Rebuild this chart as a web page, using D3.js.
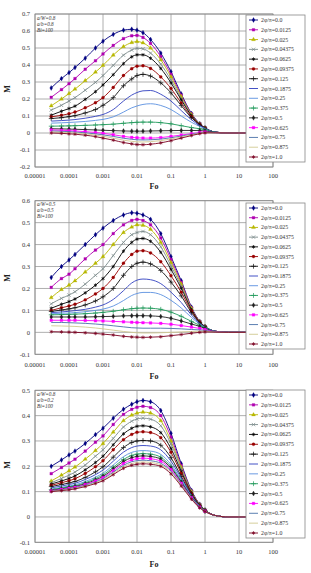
<!DOCTYPE html>
<html><head><meta charset="utf-8">
<script src="https://cdn.jsdelivr.net/npm/d3@7"></script>
<style>body{margin:0;background:#fff}svg{display:block}</style>
</head><body>
<svg id="c" width="311" height="573"></svg>
<script>
// ---- data ----
const foValues = [3e-5,6e-5,1e-4,1.5e-4,3e-4,6e-4,1e-3,2e-3,4e-3,7e-3,1e-2,1.5e-2,2.5e-2,5e-2,0.1,0.2,0.4,0.7,1,2,5,20];
const seriesLabels = ["2φ/π=0.0","2φ/π=0.0125","2φ/π=0.025","2φ/π=0.04375","2φ/π=0.0625","2φ/π=0.09375","2φ/π=0.125","2φ/π=0.1875","2φ/π=0.25","2φ/π=0.375","2φ/π=0.5","2φ/π=0.625","2φ/π=0.75","2φ/π=0.875","2φ/π=1.0"];
const xTickValues = [1e-5,1e-4,1e-3,1e-2,0.1,1,10,100];
const xTickLabels = ["0.00001","0.0001","0.001","0.01","0.1","1","10","100"];
const panel1Notes = ["a/W=0.8","a/b=0.8","Bi=100"];
const panel2Notes = ["a/W=0.5","a/b=0.5","Bi=100"];
const panel3Notes = ["a/W=0.8","a/b=0.2","Bi=100"];
const panel1M = [
[0.265,0.32,0.355,0.385,0.44,0.50,0.54,0.58,0.605,0.61,0.605,0.59,0.55,0.47,0.36,0.23,0.115,0.055,0.03,0.005,0,0],
[0.21,0.255,0.29,0.32,0.375,0.425,0.465,0.515,0.555,0.572,0.574,0.562,0.527,0.45,0.345,0.222,0.112,0.054,0.03,0.005,0,0],
[0.16,0.2,0.232,0.258,0.308,0.358,0.398,0.458,0.508,0.532,0.538,0.53,0.5,0.43,0.33,0.214,0.109,0.053,0.029,0.005,0,0],
[0.135,0.163,0.188,0.208,0.252,0.298,0.338,0.398,0.458,0.488,0.498,0.495,0.47,0.405,0.312,0.204,0.105,0.052,0.029,0.005,0,0],
[0.105,0.128,0.144,0.158,0.198,0.243,0.283,0.343,0.408,0.448,0.46,0.46,0.44,0.38,0.295,0.195,0.102,0.051,0.029,0.005,0,0],
[0.095,0.104,0.113,0.123,0.148,0.178,0.208,0.268,0.338,0.378,0.393,0.395,0.38,0.33,0.262,0.176,0.095,0.049,0.028,0.005,0,0],
[0.085,0.09,0.096,0.102,0.118,0.138,0.163,0.208,0.278,0.318,0.338,0.345,0.335,0.295,0.236,0.161,0.09,0.048,0.028,0.005,0,0],
[0.07,0.073,0.076,0.079,0.087,0.098,0.109,0.138,0.188,0.223,0.238,0.248,0.25,0.228,0.188,0.132,0.078,0.044,0.027,0.005,0,0],
[0.058,0.06,0.062,0.064,0.068,0.074,0.08,0.095,0.123,0.148,0.159,0.168,0.172,0.162,0.138,0.1,0.063,0.039,0.025,0.005,0,0],
[0.04,0.041,0.042,0.043,0.045,0.047,0.049,0.052,0.057,0.061,0.063,0.064,0.064,0.061,0.054,0.043,0.032,0.025,0.02,0.004,0,0],
[0.025,0.024,0.023,0.022,0.02,0.018,0.016,0.014,0.012,0.011,0.011,0.011,0.012,0.013,0.014,0.015,0.015,0.014,0.012,0.003,0,0],
[0.018,0.016,0.014,0.012,0.008,0.003,-0.002,-0.01,-0.02,-0.026,-0.028,-0.03,-0.03,-0.027,-0.02,-0.012,-0.004,0.003,0.006,0.002,0,0],
[0.012,0.01,0.008,0.006,0.001,-0.005,-0.011,-0.02,-0.031,-0.037,-0.04,-0.041,-0.04,-0.036,-0.028,-0.018,-0.008,0.0,0.004,0.001,0,0],
[0.006,0.004,0.002,0.0,-0.005,-0.012,-0.019,-0.03,-0.042,-0.049,-0.052,-0.053,-0.051,-0.045,-0.035,-0.023,-0.011,-0.002,0.002,0.001,0,0],
[0.0,-0.002,-0.005,-0.007,-0.013,-0.021,-0.03,-0.042,-0.056,-0.064,-0.068,-0.069,-0.066,-0.058,-0.045,-0.03,-0.015,-0.004,0.001,0.001,0,0]
];
const panel2M = [
[0.25,0.3,0.33,0.355,0.40,0.445,0.475,0.51,0.535,0.545,0.543,0.535,0.515,0.45,0.345,0.235,0.115,0.05,0.026,0.005,0,0],
[0.205,0.245,0.265,0.29,0.335,0.375,0.40,0.45,0.49,0.51,0.515,0.51,0.49,0.43,0.332,0.228,0.112,0.049,0.026,0.005,0,0],
[0.158,0.195,0.215,0.235,0.275,0.315,0.345,0.40,0.455,0.48,0.49,0.488,0.47,0.41,0.318,0.22,0.109,0.048,0.026,0.005,0,0],
[0.13,0.155,0.17,0.185,0.22,0.26,0.29,0.35,0.41,0.445,0.455,0.46,0.445,0.39,0.303,0.211,0.106,0.047,0.026,0.005,0,0],
[0.11,0.128,0.14,0.152,0.18,0.215,0.245,0.3,0.37,0.41,0.425,0.428,0.415,0.365,0.287,0.201,0.103,0.046,0.025,0.005,0,0],
[0.1,0.112,0.12,0.128,0.148,0.175,0.2,0.25,0.315,0.355,0.37,0.372,0.362,0.322,0.258,0.183,0.097,0.045,0.025,0.005,0,0],
[0.095,0.102,0.107,0.112,0.125,0.143,0.162,0.2,0.26,0.3,0.315,0.32,0.312,0.282,0.229,0.166,0.09,0.044,0.025,0.005,0,0],
[0.09,0.093,0.096,0.099,0.105,0.115,0.125,0.15,0.19,0.225,0.238,0.243,0.24,0.222,0.183,0.136,0.079,0.041,0.024,0.005,0,0],
[0.085,0.087,0.088,0.09,0.094,0.1,0.106,0.12,0.145,0.168,0.177,0.182,0.182,0.172,0.146,0.111,0.068,0.038,0.023,0.005,0,0],
[0.08,0.081,0.082,0.083,0.085,0.088,0.091,0.096,0.103,0.108,0.11,0.111,0.11,0.105,0.092,0.073,0.05,0.032,0.021,0.004,0,0],
[0.07,0.07,0.07,0.07,0.07,0.071,0.072,0.073,0.075,0.076,0.076,0.076,0.075,0.072,0.064,0.052,0.038,0.027,0.018,0.003,0,0],
[0.055,0.055,0.055,0.055,0.054,0.053,0.052,0.05,0.048,0.046,0.045,0.044,0.043,0.041,0.037,0.031,0.024,0.018,0.013,0.003,0,0],
[0.045,0.045,0.044,0.043,0.041,0.038,0.035,0.03,0.025,0.021,0.02,0.019,0.019,0.019,0.018,0.016,0.013,0.011,0.009,0.002,0,0],
[0.03,0.029,0.028,0.027,0.024,0.02,0.016,0.01,0.004,0.0,-0.002,-0.003,-0.003,-0.002,0.0,0.002,0.004,0.005,0.005,0.001,0,0],
[0.003,0.002,0.001,0.0,-0.002,-0.005,-0.008,-0.012,-0.018,-0.021,-0.022,-0.023,-0.022,-0.02,-0.015,-0.01,-0.004,0.0,0.002,0.001,0,0]
];
const panel3M = [
[0.20,0.225,0.245,0.26,0.29,0.325,0.35,0.39,0.425,0.445,0.455,0.46,0.455,0.42,0.33,0.21,0.105,0.05,0.028,0.006,0,0],
[0.171,0.195,0.213,0.228,0.26,0.295,0.32,0.365,0.405,0.425,0.433,0.437,0.432,0.4,0.315,0.203,0.102,0.049,0.027,0.006,0,0],
[0.142,0.165,0.182,0.197,0.228,0.262,0.29,0.335,0.38,0.402,0.41,0.414,0.41,0.38,0.3,0.196,0.1,0.048,0.027,0.006,0,0],
[0.135,0.152,0.165,0.177,0.205,0.24,0.265,0.31,0.355,0.378,0.387,0.39,0.386,0.36,0.288,0.19,0.098,0.047,0.026,0.006,0,0],
[0.13,0.142,0.152,0.162,0.186,0.215,0.24,0.285,0.328,0.35,0.358,0.36,0.356,0.333,0.27,0.18,0.095,0.046,0.026,0.006,0,0],
[0.125,0.135,0.143,0.151,0.172,0.198,0.222,0.265,0.305,0.326,0.334,0.336,0.333,0.313,0.255,0.172,0.092,0.045,0.025,0.006,0,0],
[0.12,0.128,0.134,0.14,0.156,0.178,0.198,0.236,0.274,0.294,0.3,0.302,0.3,0.283,0.234,0.16,0.088,0.044,0.025,0.006,0,0],
[0.115,0.122,0.128,0.133,0.148,0.167,0.185,0.22,0.256,0.274,0.28,0.282,0.28,0.265,0.22,0.153,0.085,0.043,0.024,0.006,0,0],
[0.11,0.117,0.122,0.127,0.14,0.157,0.173,0.205,0.238,0.255,0.26,0.262,0.26,0.247,0.207,0.146,0.082,0.042,0.024,0.006,0,0],
[0.108,0.114,0.119,0.123,0.135,0.151,0.166,0.196,0.227,0.243,0.248,0.25,0.248,0.236,0.199,0.141,0.08,0.041,0.024,0.006,0,0],
[0.105,0.111,0.116,0.12,0.131,0.146,0.16,0.189,0.219,0.234,0.239,0.241,0.239,0.228,0.193,0.137,0.078,0.04,0.023,0.006,0,0],
[0.103,0.109,0.113,0.117,0.128,0.142,0.155,0.183,0.211,0.225,0.23,0.232,0.23,0.22,0.187,0.133,0.076,0.039,0.023,0.006,0,0],
[0.102,0.107,0.111,0.115,0.125,0.138,0.151,0.177,0.204,0.218,0.222,0.224,0.222,0.212,0.181,0.129,0.074,0.038,0.023,0.006,0,0],
[0.101,0.105,0.109,0.113,0.122,0.135,0.147,0.172,0.198,0.211,0.215,0.217,0.215,0.206,0.176,0.126,0.072,0.037,0.022,0.006,0,0],
[0.1,0.104,0.107,0.111,0.12,0.132,0.143,0.167,0.192,0.204,0.208,0.21,0.208,0.2,0.17,0.122,0.07,0.036,0.022,0.006,0,0]
];

// ---- styles ----
const seriesColors = ["#000080","#B000B0","#B8B800","#7A8A8A","#000000","#990000","#111111","#3040C0","#5A90E0","#1F9A5A","#202020","#FF00FF","#4A70A8","#D0C890","#7A0020"];
const seriesMarkers = ["diamond","square","triangle","times","asterisk","circle","plus",null,null,"plus","diamond","square",null,null,"asterisk"];
const symbolMap = {diamond:d3.symbolDiamond, square:d3.symbolSquare, triangle:d3.symbolTriangle, circle:d3.symbolCircle, times:d3.symbolTimes, plus:d3.symbolPlus, asterisk:d3.symbolAsterisk};
const strokeSymbols = new Set(["times","plus","asterisk"]);

const panels = [
  {data:panel1M, notes:panel1Notes, yMin:-0.2, yMax:0.7, top:14, bottom:167, tickY:178, xLabelY:189, legTop:15, legBottom:162, mY:89},
  {data:panel2M, notes:panel2Notes, yMin:-0.1, yMax:0.6, top:200.7, bottom:354.3, tickY:367, xLabelY:379, legTop:203, legBottom:349, mY:278},
  {data:panel3M, notes:panel3Notes, yMin:-0.1, yMax:0.5, top:390.3, bottom:542.3, tickY:554, xLabelY:567, legTop:390, legBottom:538, mY:465}
];

const svg = d3.select("#c");
const X0 = 35, X1 = 273;
const x = d3.scaleLog().domain([1e-5,100]).range([X0,X1]);
const FONT = "'Liberation Serif','DejaVu Serif',serif";

panels.forEach(p => {
  const y = d3.scaleLinear().domain([p.yMin,p.yMax]).range([p.bottom,p.top]);
  const g = svg.append("g");
  const nT = Math.round((p.yMax-p.yMin)*10);
  const yTicks = d3.range(nT+1).map(i => +(p.yMin + i*0.1).toFixed(1));
  // grid
  g.selectAll(".hg").data(yTicks).join("line")
    .attr("x1",X0).attr("x2",X1).attr("y1",d=>y(d)).attr("y2",d=>y(d))
    .attr("stroke","#9a9a9a").attr("stroke-width",0.8);
  g.selectAll(".vg").data(xTickValues).join("line")
    .attr("x1",d=>x(d)).attr("x2",d=>x(d)).attr("y1",p.top).attr("y2",p.bottom)
    .attr("stroke","#9a9a9a").attr("stroke-width",0.8);
  g.append("rect").attr("x",X0).attr("y",p.top).attr("width",X1-X0).attr("height",p.bottom-p.top)
    .attr("fill","none").attr("stroke","#888").attr("stroke-width",0.8);
  // y tick labels
  g.selectAll(".yl").data(yTicks).join("text")
    .attr("x",30).attr("y",d=>y(d)+2.3).attr("text-anchor","end")
    .attr("font-family",FONT).attr("font-size",6.5).attr("fill","#333")
    .text(d => Math.abs(d)<1e-9 ? "0" : d.toFixed(1));
  // x tick labels
  g.selectAll(".xl").data(xTickValues).join("text")
    .attr("x",d=>x(d)).attr("y",p.tickY).attr("text-anchor","middle")
    .attr("font-family",FONT).attr("font-size",6.5).attr("fill","#333")
    .text((d,i)=>xTickLabels[i]);
  // axis titles
  g.append("text").attr("x",154).attr("y",p.xLabelY).attr("text-anchor","middle")
    .attr("font-family",FONT).attr("font-size",8).attr("font-weight","bold").attr("fill","#222").text("Fo");
  g.append("text").attr("transform",`translate(10,${p.mY}) rotate(-90)`).attr("text-anchor","middle")
    .attr("font-family",FONT).attr("font-size",8).attr("font-weight","bold").attr("fill","#222").text("M");
  // series
  const line = d3.line().x((d,i)=>x(foValues[i])).y(d=>y(d)).curve(d3.curveMonotoneX);
  p.data.forEach((vals,si) => {
    g.append("path").attr("d",line(vals)).attr("fill","none")
      .attr("stroke",seriesColors[si]).attr("stroke-width",0.9);
    const m = seriesMarkers[si];
    if (m) {
      const sym = d3.symbol().type(symbolMap[m]).size(strokeSymbols.has(m)?9:7);
      g.selectAll(null).data(vals.slice(0,19)).join("path")
        .attr("transform",(d,i)=>`translate(${x(foValues[i])},${y(d)})`)
        .attr("d",sym())
        .attr("fill",strokeSymbols.has(m)?"none":seriesColors[si])
        .attr("stroke",seriesColors[si]).attr("stroke-width",strokeSymbols.has(m)?0.7:0.3);
    }
  });
  // notes
  p.notes.forEach((t,i) => {
    g.append("text").attr("x",37).attr("y",p.top+5.5+i*6).attr("font-family",FONT)
      .attr("font-size",5.2).attr("font-style","italic").attr("fill","#333").text(t);
  });
  // legend
  const lx = 246, lw = 59;
  g.append("rect").attr("x",lx).attr("y",p.legTop).attr("width",lw).attr("height",p.legBottom-p.legTop)
    .attr("fill","#fff").attr("stroke","#888").attr("stroke-width",0.8);
  const step = (p.legBottom-p.legTop-10)/14;
  seriesLabels.forEach((lab,si) => {
    const ly = p.legTop + 5 + si*step;
    g.append("line").attr("x1",249).attr("x2",258).attr("y1",ly).attr("y2",ly)
      .attr("stroke",seriesColors[si]).attr("stroke-width",0.9);
    const m = seriesMarkers[si];
    if (m) {
      g.append("path").attr("transform",`translate(253.5,${ly})`)
        .attr("d",d3.symbol().type(symbolMap[m]).size(strokeSymbols.has(m)?9:7)())
        .attr("fill",strokeSymbols.has(m)?"none":seriesColors[si])
        .attr("stroke",seriesColors[si]).attr("stroke-width",strokeSymbols.has(m)?0.7:0.3);
    }
    g.append("text").attr("x",261).attr("y",ly+2).attr("font-family",FONT)
      .attr("font-size",5.8).attr("fill","#333").text(lab);
  });
});
</script>
</body></html>
